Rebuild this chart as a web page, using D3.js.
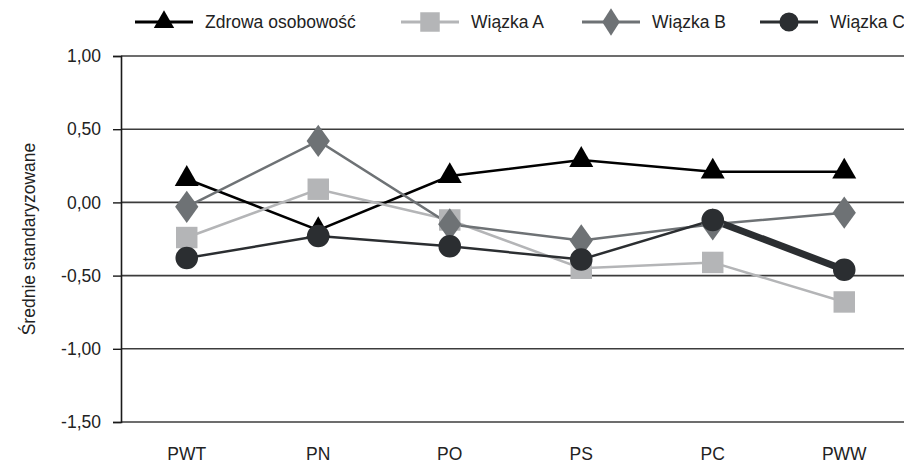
<!DOCTYPE html>
<html><head><meta charset="utf-8">
<script src="https://cdn.jsdelivr.net/npm/d3@7/dist/d3.min.js"></script>
<style>
html,body{margin:0;padding:0;background:#fff;}
svg text{font-family:"Liberation Sans",Arial,sans-serif;}
</style></head>
<body><svg id="c" width="904" height="464"></svg>
<script>
const categories = ["PWT","PN","PO","PS","PC","PWW"];
const seriesNames = ["Zdrowa osobowość","Wiązka A","Wiązka B","Wiązka C"];
const zdrowa = [0.16,-0.19,0.18,0.29,0.21,0.21];
const wiazkaA = [-0.24,0.09,-0.12,-0.45,-0.41,-0.68];
const wiazkaB = [-0.03,0.42,-0.15,-0.26,-0.15,-0.07];
const wiazkaC = [-0.38,-0.23,-0.30,-0.39,-0.12,-0.46];
const yTicks = [1.0,0.5,0.0,-0.5,-1.0,-1.5];
const yLabel = "Średnie standaryzowane";

const series = [
  {name:seriesNames[0], values:zdrowa, color:"#000000", sym:"triangle"},
  {name:seriesNames[1], values:wiazkaA, color:"#b4b5b7", sym:"square"},
  {name:seriesNames[2], values:wiazkaB, color:"#6e7275", sym:"diamond"},
  {name:seriesNames[3], values:wiazkaC, color:"#2b2e31", sym:"circle"}
];
const FS = 17.5;

const svg = d3.select("#c");
const x = d3.scaleBand().domain(categories).range([121, 910]);
const y = d3.scaleLinear().domain([-1.5, 1.0]).range([422, 56]);
const fmt = v => d3.format(".2f")(v).replace(".", ",").replace("−","-");

// gridlines
svg.append("g").selectAll("line").data(yTicks).join("line")
  .attr("x1", 121).attr("x2", 904)
  .attr("y1", d => y(d)).attr("y2", d => y(d))
  .attr("stroke", "#3c3c3c").attr("stroke-width", 1.6);

// y axis
const yAxis = d3.axisLeft(y).tickValues(yTicks).tickSize(8).tickPadding(12).tickFormat(fmt);
const gy = svg.append("g").attr("transform", "translate(121,0)").call(yAxis);
gy.attr("font-size", null).attr("font-family", null);
gy.select(".domain").attr("stroke", "#1a1a1a").attr("stroke-width", 1.6);
gy.selectAll(".tick line").attr("stroke", "#1a1a1a").attr("stroke-width", 1.4);
gy.selectAll(".tick text").attr("font-size", FS).attr("fill", "#222");

// x axis labels
const xAxis = d3.axisBottom(x).tickSize(0).tickPadding(26);
const gx = svg.append("g").attr("transform", "translate(0,422)").call(xAxis);
gx.attr("font-size", null).attr("font-family", null);
gx.select(".domain").remove();
gx.selectAll(".tick text").attr("font-size", FS).attr("fill", "#222");

// y label
svg.append("text").attr("transform", "translate(35,239) rotate(-90)")
  .attr("text-anchor", "middle").attr("font-size", FS).attr("fill", "#222").text(yLabel);

const cx = c => x(c) + x.bandwidth()/2;
const symType = {triangle:d3.symbolTriangle, square:d3.symbolSquare, diamond:d3.symbolDiamond, circle:d3.symbolCircle};
const symSize = {triangle:250, square:460, diamond:300, circle:400};
const legSize = {triangle:180, square:380, diamond:220, circle:290};

// lines
const line = d3.line().x((d,i) => cx(categories[i])).y(d => y(d));
series.forEach(s => {
  svg.append("path").datum(s.values).attr("d", line)
    .attr("fill", "none").attr("stroke", s.color).attr("stroke-width", 2.5);
});
// thick segment of Wiązka C between PC and PWW
svg.append("line")
  .attr("x1", cx(categories[4])).attr("y1", y(wiazkaC[4]))
  .attr("x2", cx(categories[5])).attr("y2", y(wiazkaC[5]))
  .attr("stroke", series[3].color).attr("stroke-width", 7);

// markers
series.forEach(s => {
  svg.append("g").selectAll("path").data(s.values).join("path")
    .attr("d", d3.symbol().type(symType[s.sym]).size(symSize[s.sym]))
    .attr("transform", (d,i) => {
      const sc = s.sym === "diamond" ? "scale(1.25,1)" : "";
      return `translate(${cx(categories[i])},${y(d)}) ${sc}`;
    })
    .attr("fill", s.color);
});

// legend
const legX = [135, 401, 582, 760];
series.forEach((s,i) => {
  const g = svg.append("g").attr("transform", `translate(${legX[i]},22)`);
  g.append("line").attr("x1",0).attr("x2",58).attr("y1",0).attr("y2",0)
    .attr("stroke", s.color).attr("stroke-width", 3);
  const sc = s.sym === "diamond" ? "scale(1.1,1)" : "";
  g.append("path").attr("d", d3.symbol().type(symType[s.sym]).size(legSize[s.sym])())
    .attr("transform", `translate(29,${s.sym==="triangle"?0:0}) ${sc}`).attr("fill", s.color);
  g.append("text").attr("x", 70).attr("y", 6).attr("font-size", FS).attr("fill","#222").text(s.name);
});
</script></body></html>
